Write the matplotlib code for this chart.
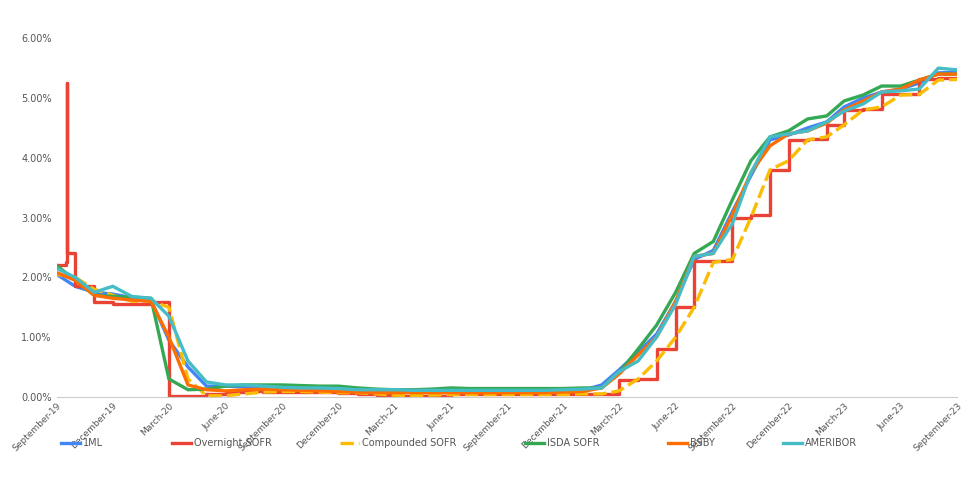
import matplotlib
matplotlib.use("Agg")
import matplotlib.pyplot as plt
import matplotlib.dates as mdates
import pandas as pd
from matplotlib.ticker import FuncFormatter

months = pd.date_range("2019-09-01", "2023-09-01", freq="MS")

ml1 = [2.05,1.85,1.75,1.72,1.66,1.62,0.95,0.50,0.18,0.18,0.17,0.16,0.15,0.14,0.14,0.14,
       0.12,0.11,0.11,0.11,0.10,0.10,0.09,0.09,0.08,0.09,0.09,0.10,0.11,0.20,0.45,0.75,
       1.05,1.60,2.30,2.45,3.10,3.70,4.30,4.38,4.50,4.60,4.85,5.00,5.10,5.15,5.25,5.42,5.43]
sofr_dates = pd.to_datetime(["2019-09-01","2019-09-16","2019-09-17","2019-09-18"]).append(months[1:])
sofr = [2.20,2.25,5.25,2.40,1.85,1.58,1.55,1.55,1.58,0.01,0.01,0.05,0.08,0.10,0.09,0.08,0.08,0.08,0.07,
        0.05,0.03,0.02,0.01,0.01,0.05,0.05,0.05,0.05,0.05,0.05,0.05,0.05,0.05,0.28,0.30,
        0.80,1.50,2.28,2.28,3.00,3.05,3.80,4.30,4.31,4.55,4.80,4.81,5.06,5.06,5.31,5.33,5.33]
comp = [2.05,2.00,1.80,1.70,1.60,1.60,1.50,0.30,0.02,0.02,0.05,0.08,0.09,0.09,0.08,0.07,
        0.07,0.05,0.03,0.02,0.03,0.04,0.04,0.04,0.04,0.04,0.04,0.04,0.05,0.05,0.10,0.30,
        0.60,1.00,1.50,2.25,2.30,3.00,3.80,3.95,4.30,4.35,4.55,4.80,4.85,5.05,5.06,5.30,5.31]
isda = [2.20,1.95,1.70,1.68,1.67,1.65,0.30,0.12,0.13,0.18,0.20,0.20,0.20,0.19,0.18,0.18,
        0.15,0.13,0.12,0.12,0.13,0.15,0.14,0.14,0.14,0.14,0.14,0.14,0.15,0.15,0.40,0.80,
        1.20,1.75,2.40,2.60,3.30,3.95,4.35,4.45,4.65,4.70,4.95,5.05,5.20,5.20,5.30,5.40,5.40]
bsby = [2.08,1.95,1.70,1.65,1.62,1.60,1.00,0.20,0.12,0.10,0.12,0.13,0.12,0.11,0.10,0.09,
        0.08,0.07,0.07,0.07,0.07,0.07,0.07,0.07,0.07,0.07,0.07,0.08,0.09,0.15,0.38,0.70,
        1.00,1.60,2.35,2.40,3.05,3.75,4.20,4.40,4.45,4.58,4.80,4.95,5.10,5.15,5.30,5.40,5.40]
amer = [2.15,2.00,1.75,1.85,1.68,1.65,1.35,0.60,0.25,0.20,0.20,0.18,0.16,0.15,0.15,0.14,
        0.12,0.12,0.12,0.11,0.11,0.11,0.11,0.11,0.11,0.11,0.11,0.12,0.13,0.15,0.42,0.60,
        1.00,1.55,2.35,2.40,2.90,3.75,4.35,4.40,4.45,4.60,4.78,4.90,5.10,5.12,5.15,5.50,5.47]

fig = plt.figure(figsize=(9.77, 4.90), dpi=100)
ax = fig.add_axes([0.058, 0.19, 0.922, 0.732])
lw = 2.4
ax.plot(months, ml1, color="#4285F4", lw=lw, label="1ML")
ax.plot(sofr_dates, sofr, color="#EA4335", lw=lw, drawstyle="steps-post", label="Overnight SOFR")
ax.plot(months, comp, color="#FBBC04", lw=lw, ls=(0, (4, 1.5)), label="Compounded SOFR")
ax.plot(months, isda, color="#34A853", lw=lw, label="ISDA SOFR")
ax.plot(months, bsby, color="#FF6D01", lw=lw, label="BSBY")
ax.plot(months, amer, color="#46BDC6", lw=lw, label="AMERIBOR")

ax.set_xlim(months[0], months[-1])
ax.set_ylim(0, 6)
ax.set_yticks([0,1,2,3,4,5,6])
ax.yaxis.set_major_formatter(FuncFormatter(lambda v, p: f"{v:.2f}%"))
ticks = months[::3]
ax.set_xticks(ticks)
ax.set_xticklabels([d.strftime("%B-%y") for d in ticks], rotation=45, ha="right",
                   rotation_mode="anchor", fontsize=6.5, color="#555555")
ax.tick_params(axis="y", labelsize=7, colors="#555555", length=0)
ax.tick_params(axis="x", length=0, pad=3)
for s in ["top","right","left"]:
    ax.spines[s].set_visible(False)
ax.spines["bottom"].set_color("#cccccc")
fig.legend(loc="center", bbox_to_anchor=(0.47, 0.096), ncol=6, frameon=False,
           fontsize=7, handlelength=2.0, handletextpad=0.3, columnspacing=7.0,
           labelcolor="#555555")
fig.savefig("out.png", dpi=100)
